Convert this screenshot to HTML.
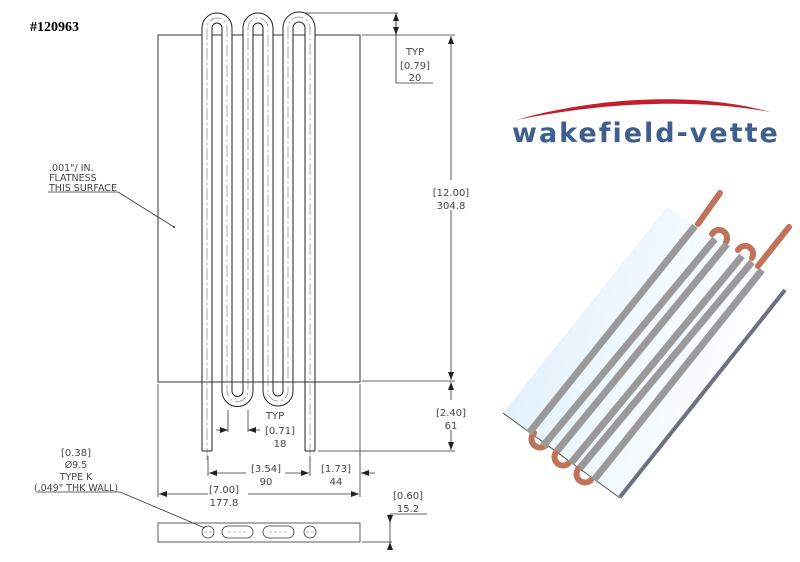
<!DOCTYPE html>
<html><head><meta charset="utf-8"><style>
body{margin:0;background:#fff;width:800px;height:562px;overflow:hidden}
svg{display:block}
text{font-family:"DejaVu Sans","Liberation Sans",sans-serif;fill:#444}
</style></head><body>
<svg width="800" height="562" viewBox="0 0 800 562" xmlns="http://www.w3.org/2000/svg">
<defs>
<linearGradient id="pl" x1="0" y1="0" x2="1" y2="0.3">
<stop offset="0" stop-color="#dcecf9"/><stop offset="0.6" stop-color="#f2f9ff"/><stop offset="1" stop-color="#ffffff"/>
</linearGradient>
<marker id="ar" markerWidth="8" markerHeight="6" refX="8" refY="3" orient="auto-start-reverse" markerUnits="userSpaceOnUse"><path d="M0,0 L8,3 L0,6z" fill="#222"/></marker>
</defs>
<text x="30" y="31" style="font-family:'Liberation Serif',serif;font-weight:bold;font-size:14px;fill:#000">#120963</text>

<rect x="158" y="35" width="202" height="347" fill="none" stroke="#333" stroke-width="1"/>
<path d="M207,451 V28 A10,10 0 0 1 227,28 V391 A10.5,10.5 0 0 0 248,391 V28 A10,10 0 0 1 268,28 V391 A10,10 0 0 0 288,391 V28 A11,11 0 0 1 310,28 V451" fill="none" stroke="#222" stroke-width="11"/>
<path d="M207,452 V28 A10,10 0 0 1 227,28 V391 A10.5,10.5 0 0 0 248,391 V28 A10,10 0 0 1 268,28 V391 A10,10 0 0 0 288,391 V28 A11,11 0 0 1 310,28 V452" fill="none" stroke="#fff" stroke-width="9"/>
<path d="M207,460 V28 A10,10 0 0 1 227,28 V391 A10.5,10.5 0 0 0 248,391 V28 A10,10 0 0 1 268,28 V391 A10,10 0 0 0 288,391 V28 A11,11 0 0 1 310,28 V460" fill="none" stroke="#888" stroke-width="0.7" stroke-dasharray="12,3,2,3"/>
<path d="M158,382 H360" stroke="#333"/>
<line x1="202" y1="451" x2="212" y2="451" stroke="#222"/><line x1="305" y1="451" x2="315" y2="451" stroke="#222"/>

<g stroke="#333" stroke-width="0.8" fill="none">
<line x1="305" y1="13" x2="398" y2="13"/>
<line x1="362" y1="35" x2="455" y2="35"/>
<line x1="362" y1="381" x2="455" y2="381"/>
<line x1="318" y1="451" x2="455" y2="451"/>
<line x1="396" y1="13" x2="396" y2="83"/>
<line x1="396" y1="83" x2="433" y2="83"/>
<line x1="396" y1="25" x2="396" y2="13" marker-end="url(#ar)"/>
<line x1="396" y1="24" x2="396" y2="35" marker-end="url(#ar)"/>
<line x1="451" y1="180" x2="451" y2="36" marker-end="url(#ar)"/>
<line x1="451" y1="210" x2="451" y2="380" marker-end="url(#ar)"/>
<line x1="451" y1="400" x2="451" y2="382" marker-end="url(#ar)"/>
<line x1="451" y1="430" x2="451" y2="450" marker-end="url(#ar)"/>
<line x1="228" y1="410" x2="228" y2="432"/>
<line x1="248" y1="410" x2="248" y2="432"/>
<line x1="216" y1="430" x2="228" y2="430" marker-end="url(#ar)"/>
<line x1="260" y1="430" x2="248" y2="430" marker-end="url(#ar)"/>
<line x1="208" y1="456" x2="208" y2="476"/>
<line x1="310" y1="456" x2="310" y2="476"/>
<line x1="158" y1="384" x2="158" y2="497"/>
<line x1="360" y1="384" x2="360" y2="497"/>
<line x1="246" y1="473" x2="209" y2="473" marker-end="url(#ar)"/>
<line x1="285" y1="473" x2="309" y2="473" marker-end="url(#ar)"/>
<line x1="375" y1="473" x2="361" y2="473" marker-end="url(#ar)"/>
<line x1="208" y1="494" x2="159" y2="494" marker-end="url(#ar)"/>
<line x1="248" y1="494" x2="359" y2="494" marker-end="url(#ar)"/>
<line x1="48" y1="192" x2="118" y2="192"/>
<line x1="118" y1="192" x2="174" y2="227"/>
<line x1="37" y1="492" x2="120" y2="492"/>
<line x1="120" y1="492" x2="205" y2="528"/>
<rect x="158" y="523" width="202" height="19"/>
<line x1="362" y1="542" x2="392" y2="542"/>
<line x1="390" y1="514" x2="427" y2="514"/>
<line x1="390" y1="514" x2="390" y2="544"/>
<line x1="390" y1="516" x2="390" y2="523" marker-end="url(#ar)"/>
<line x1="390" y1="548" x2="390" y2="542" marker-end="url(#ar)"/>
<circle cx="208" cy="532" r="6"/>
<circle cx="310" cy="532" r="6"/>
<rect x="222" y="526" width="31" height="12" rx="6"/>
<rect x="263" y="526" width="31" height="12" rx="6"/>
</g>
<circle cx="174" cy="227" r="1" fill="#333"/>
<g stroke="#777" stroke-width="0.6" stroke-dasharray="3,2"><line x1="228" y1="532" x2="247" y2="532"/><line x1="269" y1="532" x2="288" y2="532"/><line x1="204" y1="532" x2="212" y2="532"/><line x1="306" y1="532" x2="314" y2="532"/></g>

<g font-size="10" text-anchor="middle">
<text x="415" y="55">TYP</text>
<text x="415" y="69">[0.79]</text>
<text x="415" y="81">20</text>
<text x="451" y="196">[12.00]</text>
<text x="451" y="209">304.8</text>
<text x="451" y="416">[2.40]</text>
<text x="451" y="429">61</text>
<text x="275" y="419">TYP</text>
<text x="280" y="434">[0.71]</text>
<text x="280" y="447">18</text>
<text x="266" y="472">[3.54]</text>
<text x="266" y="485">90</text>
<text x="336" y="472">[1.73]</text>
<text x="336" y="485">44</text>
<text x="224" y="493">[7.00]</text>
<text x="224" y="506">177.8</text>
<text x="408" y="499">[0.60]</text>
<text x="408" y="512">15.2</text>
<text x="76" y="456">[0.38]</text>
<text x="76" y="468" font-size="9.5">Ø9.5</text>
<text x="76" y="480" font-size="9.5">TYPE K</text>
<text x="76" y="491" font-size="9.5">(.049" THK WALL)</text>
</g>
<g font-size="9.5" style="font-family:'Liberation Sans',sans-serif">
<text x="49" y="171">.001"/ IN.</text>
<text x="49" y="181">FLATNESS</text>
<text x="49" y="191">THIS SURFACE</text>
</g>

<path d="M516,120 C600,96 700,92 770,112 C700,99 610,101 516,120z" fill="#c41e2e"/>
<text x="512" y="142" style="font-family:'DejaVu Sans',sans-serif;font-weight:bold;font-size:27px;fill:#3d5e8e;letter-spacing:2px">wakefield-vette</text>

<polygon points="667,207 785,288 620,498 503,413" fill="url(#pl)"/>
<line x1="503" y1="413" x2="620" y2="498" stroke="#555" stroke-width="1"/>
<line x1="785" y1="290" x2="620" y2="497" stroke="#6b7180" stroke-width="4"/>
<g stroke="#c0735a" stroke-width="6" stroke-linecap="round" fill="none">
<line x1="698" y1="224" x2="720" y2="193"/>
<line x1="758" y1="266" x2="789" y2="227"/>
<path d="M712,234 a8,8 0 1 1 14,8"/>
<path d="M738,250 a8,8 0 1 1 14,8"/>
<path d="M534,433 a8,8 0 1 0 12,12"/>
<path d="M557,451 a8,8 0 1 0 12,12"/>
<path d="M579,468 a8,8 0 1 0 12,12"/>
</g>
<g stroke="#9a9a9a" stroke-width="7">
<line x1="695" y1="226" x2="529" y2="433"/>
<line x1="715" y1="239" x2="543" y2="446"/>
<line x1="727" y1="244" x2="557" y2="451"/>
<line x1="742" y1="256" x2="571" y2="463"/>
<line x1="752" y1="262" x2="580" y2="468"/>
<line x1="762" y1="270" x2="594" y2="480"/>
</g>
</svg>
</body></html>
